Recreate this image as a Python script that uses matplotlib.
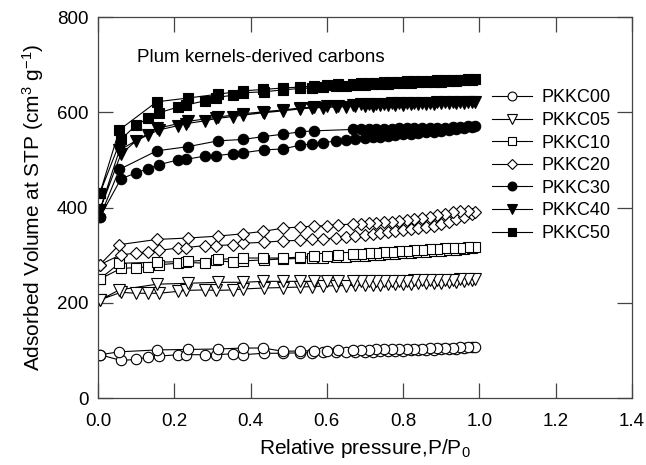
import numpy as np
import matplotlib
matplotlib.use("Agg")
import matplotlib.pyplot as plt

plt.rcParams['font.family'] = ['Liberation Sans', 'DejaVu Sans']
plt.rcParams['mathtext.default'] = 'regular'

# relative pressure grids, adsorption (up) and desorption (down)
p_ads = [0.005, 0.06, 0.10, 0.13, 0.16, 0.21, 0.23, 0.28, 0.31, 0.355, 0.38, 0.435,
         0.485, 0.53, 0.56, 0.59, 0.625, 0.65, 0.675, 0.70, 0.72, 0.74, 0.76, 0.78,
         0.80, 0.82, 0.84, 0.86, 0.88, 0.90, 0.92, 0.94, 0.96, 0.98]
p_des = [0.99, 0.97, 0.95, 0.93, 0.91, 0.89, 0.87, 0.85, 0.83, 0.81, 0.79, 0.77,
         0.75, 0.73, 0.71, 0.69, 0.67, 0.63, 0.60, 0.566, 0.53, 0.486, 0.434, 0.381,
         0.315, 0.237, 0.154, 0.056, 0.005]
p_des_30 = [0.99, 0.97, 0.95, 0.93, 0.91, 0.89, 0.87, 0.85, 0.83, 0.81, 0.79, 0.77,
            0.75, 0.73, 0.71, 0.69, 0.67, 0.566, 0.53, 0.486, 0.434, 0.381,
            0.315, 0.237, 0.154, 0.056, 0.005]

# adsorbed volume (cm3/g)
pkkc00_ads = [91, 79, 81, 86, 88, 91, 91, 91, 91, 93, 91, 94, 94, 95, 95, 96, 96, 96,
              97, 97, 97, 98, 98, 99, 99, 100, 100, 101, 101, 102, 103, 104, 105, 107]
pkkc00_des = [108, 107, 107, 106, 106, 105, 105, 104, 104, 103, 103, 103, 102, 102,
              101, 101, 100, 100, 99, 99, 99, 98, 105, 105, 103, 102, 101, 97, 91]

pkkc05_ads = [206, 222, 220, 220, 220, 224, 226, 227, 226, 227, 229, 231, 232, 233,
              234, 235, 236, 236, 237, 237, 238, 238, 239, 239, 240, 240, 241, 241,
              242, 242, 243, 244, 245, 247]
pkkc05_des = [249, 249, 249, 248, 248, 248, 247, 247, 247, 246, 246, 246, 246, 246,
              245, 245, 245, 245, 245, 245, 245, 245, 245, 243, 243, 241, 239, 227, 206]

pkkc10_ads = [250, 272, 274, 275, 280, 283, 285, 283, 289, 285, 288, 290, 292, 293,
              294, 295, 296, 297, 298, 299, 300, 301, 302, 303, 304, 305, 306, 307,
              308, 309, 310, 311, 313, 315]
pkkc10_des = [317, 317, 316, 315, 314, 313, 312, 311, 310, 309, 308, 307, 306, 305,
              304, 303, 302, 300, 299, 298, 296, 294, 294, 294, 291, 287, 285, 283, 250]

pkkc20_ads = [280, 301, 304, 307, 310, 315, 316, 320, 320, 322, 325, 327, 330, 331,
              333, 334, 336, 338, 340, 342, 344, 346, 348, 350, 352, 355, 357, 359,
              362, 366, 370, 375, 380, 386]
pkkc20_des = [390, 392, 392, 391, 387, 384, 381, 378, 376, 374, 372, 370, 369, 368,
              367, 366, 365, 364, 362, 361, 359, 357, 350, 345, 340, 336, 333, 322, 280]

pkkc30_ads = [380, 460, 473, 481, 490, 500, 501, 508, 509, 513, 515, 521, 523, 531,
              533, 536, 540, 542, 544, 546, 548, 549, 551, 552, 554, 555, 557, 558,
              559, 561, 562, 564, 566, 569]
pkkc30_des = [571, 571, 570, 569, 568, 568, 567, 567, 566, 566, 566, 565, 565, 565,
              564, 564, 564, 561, 559, 554, 549, 543, 540, 528, 519, 480, 380]

pkkc40_ads = [395, 512, 540, 552, 563, 572, 576, 582, 587, 591, 594, 599, 603, 607,
              609, 610, 611, 612, 613, 614, 614, 615, 615, 616, 616, 617, 617, 618,
              618, 619, 619, 620, 620, 621]
pkkc40_des = [622, 622, 622, 621, 621, 621, 620, 620, 620, 619, 619, 619, 618, 618,
              617, 617, 616, 614, 613, 611, 609, 605, 601, 597, 590, 581, 566, 520, 395]

pkkc50_ads = [430, 543, 573, 587, 599, 611, 615, 624, 631, 636, 641, 643, 647, 650,
              651, 653, 655, 656, 657, 658, 659, 660, 660, 661, 662, 662, 663, 663,
              664, 664, 665, 666, 667, 668]
pkkc50_des = [669, 669, 668, 668, 667, 667, 666, 666, 665, 665, 664, 663, 663, 662,
              662, 661, 660, 659, 657, 655, 653, 651, 648, 645, 638, 630, 622, 563, 430]

series = [
    ('PKKC00', pkkc00_ads, pkkc00_des, p_des, 'o', 'white'),
    ('PKKC05', pkkc05_ads, pkkc05_des, p_des, 'v', 'white'),
    ('PKKC10', pkkc10_ads, pkkc10_des, p_des, 's', 'white'),
    ('PKKC20', pkkc20_ads, pkkc20_des, p_des, 'D', 'white'),
    ('PKKC30', pkkc30_ads, pkkc30_des, p_des_30, 'o', 'black'),
    ('PKKC40', pkkc40_ads, pkkc40_des, p_des, 'v', 'black'),
    ('PKKC50', pkkc50_ads, pkkc50_des, p_des, 's', 'black'),
]

fig = plt.figure(figsize=(6.46, 4.65), dpi=100)
ax = fig.add_axes([0.1517, 0.144, 0.8263, 0.8194])

msize = {'o': 7.5, 'v': 8, 's': 7, 'D': 6.5}
for name, ads, des, pd_, mk, fc in series:
    x = list(p_ads) + list(pd_)
    y = list(ads) + list(des)
    ax.plot(x, y, color='black', lw=0.8, marker=mk, ms=msize[mk],
            mfc=fc, mec='black', mew=0.8, label=name)

ax.set_xlim(0, 1.4)
ax.set_ylim(0, 800)
ax.set_xticks(np.arange(0, 1.41, 0.2))
ax.set_yticks([0, 200, 400, 600, 800])
ax.set_xticklabels(['0.0', '0.2', '0.4', '0.6', '0.8', '1.0', '1.2', '1.4'])
ax.tick_params(direction='in', length=11, width=0.9, color='#444444',
               top=True, right=True, labelsize=13.5)
ax.tick_params(axis='x', pad=11)
ax.tick_params(axis='y', pad=7)
for s in ax.spines.values():
    s.set_color('#444444')
    s.set_linewidth(0.9)

ax.set_xlabel('Relative pressure,P/P$_0$', fontsize=15, labelpad=5)
ax.set_ylabel('Adsorbed Volume at STP (cm$^3$ g$^{-1}$)', fontsize=15, labelpad=8)
ax.text(0.073, 0.893, 'Plum kernels-derived carbons', transform=ax.transAxes,
        fontsize=13.5, va='center', ha='left')

handles, labels = ax.get_legend_handles_labels()
leg = ax.legend(handles, labels, loc='upper left', bbox_to_anchor=(0.738, 0.81),
                frameon=False, fontsize=13, handlelength=2.2, handletextpad=0.55,
                labelspacing=0.31, borderpad=0, borderaxespad=0, markerscale=0.85)

fig.savefig('out.png', dpi=100)
